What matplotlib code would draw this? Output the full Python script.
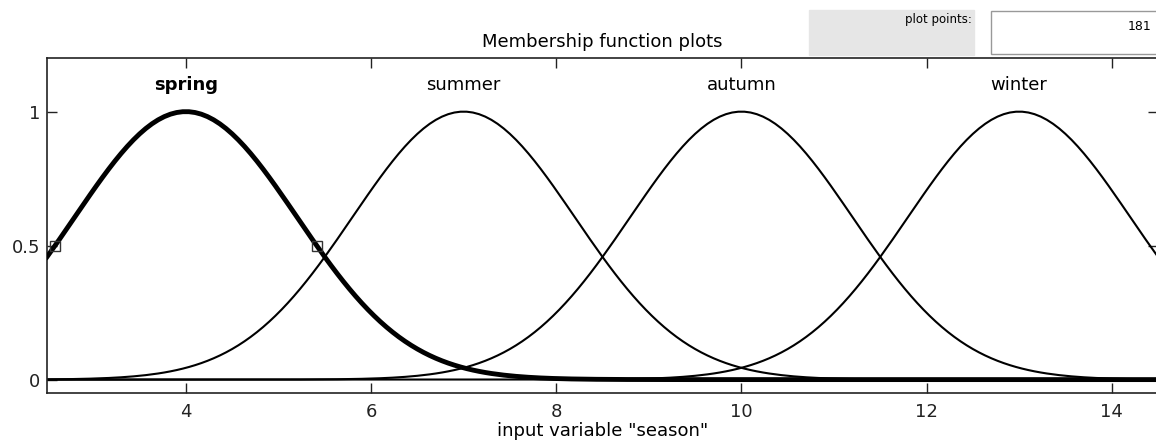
import numpy as np
import matplotlib.pyplot as plt
from matplotlib.patches import Rectangle

plt.rcParams['font.family'] = ['DejaVu Sans']

# gaussian membership functions for the input "season"
mf_names = ['spring', 'summer', 'autumn', 'winter']
mf_centers = [4, 7, 10, 13]
mf_sigma = 1.2
x_range = [2.5, 14.5]
n_points = 181
selected = 'spring'

x = np.linspace(x_range[0], x_range[1], n_points)

fig = plt.figure(figsize=(11.56, 4.41), dpi=100)
ax = fig.add_axes([47 / 1156, 48 / 441, 1111 / 1156, 335 / 441])

for name, c in zip(mf_names, mf_centers):
    y = np.exp(-(x - c) ** 2 / (2 * mf_sigma ** 2))
    bold = name == selected
    ax.plot(x, y, color='black', lw=3.5 if bold else 1.5, zorder=3 if bold else 2)
    ax.text(c, 1.1, name, ha='center', va='center', fontsize=13,
            fontweight='bold' if bold else 'normal')
    if bold:
        # half-height handles of the selected function
        hw = mf_sigma * np.sqrt(2 * np.log(2))
        ax.plot([c - hw, c + hw], [0.5, 0.5], ls='none', marker='s', ms=7,
                mfc='none', mec='#333333', mew=1, zorder=4)

ax.set_xlim(x_range)
ax.set_ylim(-0.05, 1.2)
ax.set_xticks([4, 6, 8, 10, 12, 14])
ax.set_yticks([0, 0.5, 1])
ax.set_yticklabels(['0', '0.5', '1'])
ax.tick_params(direction='in', length=7, width=1, top=True, right=True,
               labelsize=13, colors='#222222', pad=5)
ax.tick_params(axis='x', pad=7)
for s in ax.spines.values():
    s.set_linewidth(1.2)
    s.set_color('#222222')
ax.set_xlabel('input variable "season"', fontsize=13, labelpad=1)

fig.text(602 / 1156, 1 - 42 / 441, 'Membership function plots', ha='center',
         va='center', fontsize=13)

# "plot points" control panel
fig.patches.append(Rectangle((809 / 1156, 1 - 55 / 441), 165 / 1156, 45 / 441,
                             transform=fig.transFigure, color='#e6e6e6', zorder=0))
fig.text(972 / 1156, 1 - 19 / 441, 'plot points:', ha='right', va='center', fontsize=8.5)
fig.patches.append(Rectangle((991 / 1156, 1 - 54 / 441), 170 / 1156, 43 / 441,
                             transform=fig.transFigure, facecolor='white',
                             edgecolor='#999999', lw=1, zorder=0))
fig.text(1151 / 1156, 1 - 26 / 441, str(n_points), ha='right', va='center', fontsize=9)

fig.savefig('out.png', dpi=100)
